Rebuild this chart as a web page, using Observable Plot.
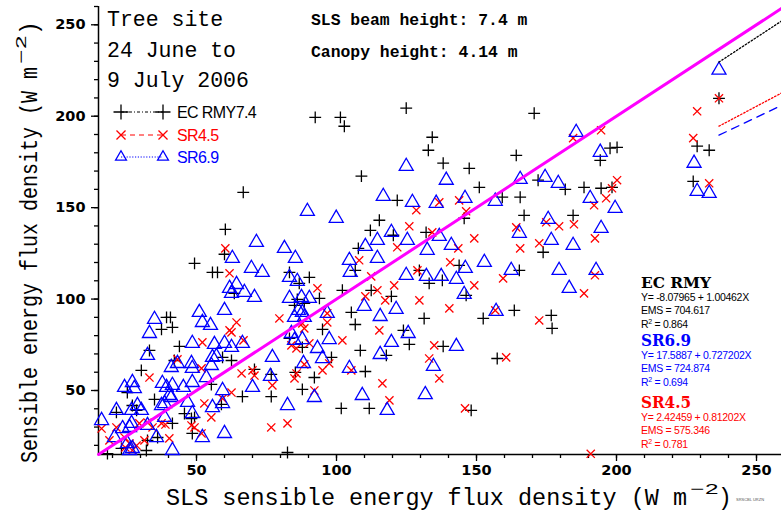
<!DOCTYPE html>
<html>
<head>
<meta charset="utf-8">
<script src="https://cdn.jsdelivr.net/npm/d3@7"></script>
<script src="https://cdn.jsdelivr.net/npm/@observablehq/plot@0.6"></script>
<style>
  html, body { margin: 0; padding: 0; background: #fff; }
  #chart { width: 781px; height: 513px; overflow: hidden; }
</style>
</head>
<body>
<div id="chart"></div>
<script>
// Sensible heat flux: eddy covariance and scintillometers against the SLS (W m-2)
const seriesNames = ["EC RMY7.4", "SR4.5", "SR6.9"];

const ecRmy = [
  [124.9,204.4],[92.4,199.4],[101.4,199.4],[102.8,194.5],[170.6,201.6],[66.7,158.4],[60.3,138.1],[60,124.5],
  [49.3,119.5],[55.7,114.6],[57.5,114.6],[83.2,114.6],[90.3,111.9],[86.7,108.6],[63.5,103.1],[102.1,104.8],
  [86,99.8],[93.9,100.4],[85,96.5],[88.5,97.6],[39.3,90],[40.7,90],[37.5,83.4],[41.4,84.5],[83.2,78.5],
  [95,83.4],[43.9,74.1],[33.2,71.9],[87.8,73.6],[59.3,68.1],[62.5,66.4],[42.1,66.4],[98.2,68.1],[70.7,61.5],
  [76.7,58.8],[85.3,59.9],[92.1,57.1],[55.3,53.3],[30.3,61],[25.3,48.9],[87.8,50.6],[66.4,46.7],[76.7,46.7],
  [35,45.1],[58.9,42.4],[45.7,37.4],[48.2,34.7],[21.4,38],[27.1,41.8],[28.6,39.1],[41.4,32],[48.5,26.5],
  [36.1,24.3],[32.5,22.7],[32.1,17.2],[23.2,18.3],[82.5,16.1],[18.2,15.5],[49.3,35.3],
  [236.6,209.8],[228.8,183.6],[233.1,181.4],[227.4,164.4],[200.2,183],[198.4,161.1],[194.5,160.6],
  [134.2,188.5],[132.8,181.4],[138.1,174.3],[147.4,171.5],[164.2,178.6],[172,165],[165.6,155.7],[159.2,155.7],
  [181.7,160],[188.4,161.1],[194.2,175.9],[197.7,182.5],[184.5,145.8],[167,145.8],[173.8,125.6],[176.7,91.1],
  [177,84],[157.4,67.5],[148.1,39.1],[132,136.5],[121.7,154],[115.3,143.1],[112.1,137.6],[120.3,134.9],
  [107.8,127.7],[106.7,115.7],[112.4,104.8],[119.6,101.5],[129.6,115.7],[133.1,108.6],[137.8,110.2],
  [143.8,118.4],[146.3,102],[131.3,89.4],[123.9,82.9],[108.5,71.9],[110.3,60.4],[111.7,40.2],[101.7,40.2],
  [108.9,167.2],[151,161.1],[145.6,144.2],[152.4,89.4],[163.5,93.8],[165.3,115.7],[138.1,74.1],[126,75.2],
  [105.3,92.7],[106.7,86.1],[117.8,69.2]
];

const sr45 = [
  [61.8,114.1],[93.2,105.9],[102.1,77.4],[64.3,87.2],[61.8,82.9],[62.5,81.8],[66.8,77.4],[52.1,76.3],
  [79.6,89.4],[96.7,92.2],[96.7,87.2],[87.8,86.7],[88.5,84],[83.9,74.7],[85.7,73],[90.3,75.8],[43.2,67],
  [33.2,57.1],[51.8,62.1],[66.1,59.3],[70,61],[70.7,58.2],[85,56.6],[85.7,59.3],[95,61],[97.4,64.8],
  [88.5,64.3],[77.1,52.8],[92.1,50],[62.5,48.9],[59.3,45.6],[52.8,42.9],[55.3,35.3],[76.7,29.8],[82.5,32],
  [16.1,29.2],[21.4,29.8],[29.6,32],[32.5,32.5],[34.3,29.8],[40.3,23.8],[51.8,26.5],[48.2,30.9],[49.3,29.8],
  [37.5,32],[38.9,31.4],[26.1,21],[27.1,17.2],[24.6,18.8],[28.6,19.9],[18.9,22.7],[24.3,24.3],[31.4,22.7],
  [108.1,121.2],[112.4,112.4],[110.3,101.5],[114.6,104.8],[121.7,128.3],[126,139.8],[128.5,148.6],
  [134.2,136.5],[136.7,152.9],[143.8,154],[146.3,148],[149.2,133.2],[143.5,127.7],[140.6,120.1],
  [128.9,115.7],[120.6,107.5],[117.4,99.3],[129.6,99.3],[140.3,94.9],[149.2,107.5],[156.7,93.8],
  [159.5,111.3],[164.2,139.2],[165.6,127.7],[172.4,130.5],[174.9,142],[179.5,139.8],[184.8,140.9],
  [192.3,133.2],[192,151.3],[196.3,155.1],[198.4,160.6],[200.2,165],[194.5,192.3],[184.5,188],
  [160.6,68.1],[172.4,88.3],[188.4,103.1],[192.3,113],[190.8,15.4],[134.9,74.7],[133.1,67.5],[136.7,56.6],
  [145.9,40.2],[105.3,61],[118.9,44.6],[116.4,53.9],[115.3,82.9],
  [236.6,209.8],[228.8,202.7],[227.4,188],[233.1,163.3],[60.3,127.7]
];

const sr69 = [
  [64.3,108],[61.8,105.9],[62.5,103.1],[67.1,103.7],[70.7,100.9],[83.2,111.9],[86,109.7],[87.5,100.9],
  [90.3,100.4],[83.2,100.4],[60,93.8],[51,92.7],[35,88.9],[33.2,81.2],[32.5,69.2],[52.1,87.2],[55,85.6],
  [96.7,92.2],[86.4,93.8],[87.8,92.7],[85,90],[88.5,90],[83.9,81.2],[85,77.4],[87.8,77.9],[97.4,77.9],
  [48.5,75.8],[56.4,75.2],[60,75.8],[62.5,73.6],[66.4,75.8],[57.1,68.6],[77.1,68.1],[93.2,73],[95,67.5],
  [43.2,64.8],[41,62.6],[48.2,64.8],[48.5,62.1],[55.3,63.7],[55.7,68.1],[53.5,57.1],[48.5,54.4],[59.3,50],
  [70,51.7],[76.4,57.7],[88.2,64.8],[92.1,46.2],[82.5,41.8],[24.3,51.7],[27.1,54.4],[27.8,51.1],[37.8,53.9],
  [39.3,51.7],[41.4,52.8],[40.3,47.3],[41,46.2],[37.5,41.8],[38.6,42.9],[45.3,51.7],[46.8,43.5],[48.5,37.4],
  [55.7,40.7],[59.3,42.9],[21.4,39.1],[16.1,33.6],[28.9,41.8],[26.8,39.1],[30.3,39.1],[23.6,29.2],[26.1,29.8],
  [26.8,32],[32.5,30.9],[35.7,24.3],[52.1,24.3],[60,26.5],[20.7,24.3],[25.3,21],[27.1,18.3],[26.1,17.2],
  [41.4,17.2],[38.6,35.3],
  [89.6,148],[99.9,144.2],[71.4,131],[62.8,122.3],[69.6,116.8],[73.5,114.6],[81.4,127.7],[85.3,122.3],
  [104.6,121.2],
  [124.9,172.6],[116.7,156.2],[127.1,152.9],[135.6,152.4],[139.2,165],[145.9,155.1],[156.7,153.5],
  [165.6,165.5],[174.5,166.6],[179.2,163.3],[185.6,191.2],[194.2,180.3],[190.6,155.1],[199.5,149.6],
  [175.6,143.6],[194.5,138.7],[176.7,132.1],[184.5,129.4],[179.5,115.7],[192.7,115.7],[183.1,105.9],
  [157,93.3],[162.4,115.7],[152.8,120.1],[146,116.8],[141,129.4],[136.7,134.3],[132.4,126.7],[125.3,132.1],
  [119.6,136.5],[114.6,132.1],[114.6,122.3],[110.3,128.8],[104.9,114.6],[109.9,96],[115.6,90.5],
  [121.3,94.4],[124.9,113],[132.1,112.4],[137.4,112.4],[142.8,110.8],[145.6,102.6],[125.6,81.2],
  [119.6,76.3],[115.6,69.7],[104.6,62.1],[109.2,47.3],[118.1,39.1],[131.7,47.8],[134.6,63.2],[142.8,74.1],
  [165.3,136],
  [236.6,225.2],[227.7,174.3],[228.8,158.9],[233.1,157.8]
];

// Least-squares fits (Y = a + bX), error mean square and R^2
const fitLabels = ["EC RMY", "SR6.9", "SR4.5"];
const fitIntercepts = [-8.07965, 17.5887, 2.42459];
const fitSlopes = [1.00462, 0.727202, 0.81202];
const fitEms = ["704.617", "724.874", "575.346"];
const fitR2 = ["0.864", "0.694", "0.781"];
const fitColors = ["#000000", "#0000ff", "#ff0000"];
const fitDash = ["1.5,2", "8,6", "1.5,2"];

const axisMin = 15, axisMax = 260;
const majorTicks = [50, 100, 150, 200, 250];
const minorTicks = d3.range(20, 261, 10);

// fit lines run from the largest observed SLS value to the end of the axis
const fitStart = d3.max([...ecRmy, ...sr45, ...sr69], d => d[0]);
const fitLines = fitLabels.map((name, i) => [fitStart, axisMax].map(x => ({name, x, y: fitIntercepts[i] + fitSlopes[i] * x})));

const tickFont = {fontSize: 14.5, fontWeight: "bold", fontFamily: "DejaVu Sans"};

const chart = Plot.plot({
  width: 781, height: 513,
  marginLeft: 98, marginRight: 0, marginTop: 6, marginBottom: 59,
  x: {domain: [axisMin, axisMax], range: [98, 784]},
  y: {domain: [axisMin, axisMax], range: [454, 6]},
  style: {background: "#fff", color: "#000", overflow: "hidden"},
  marks: [
    Plot.axisX({ticks: minorTicks, tickSize: 4, tickFormat: () => "", label: null, strokeWidth: 1.3}),
    Plot.axisX({ticks: majorTicks, tickSize: 7, tickPadding: 3, label: null, strokeWidth: 1.3, ...tickFont}),
    Plot.axisY({ticks: minorTicks, tickSize: 4, tickFormat: () => "", label: null, strokeWidth: 1.3}),
    Plot.axisY({ticks: majorTicks, tickSize: 7, tickPadding: 6, label: null, strokeWidth: 1.3, ...tickFont}),
    Plot.ruleY([axisMin], {stroke: "#000", strokeWidth: 1.5}),
    Plot.ruleX([axisMin], {stroke: "#000", strokeWidth: 1.5}),
    Plot.dot(ecRmy, {x: d => d[0], y: d => d[1], symbol: "plus", r: 3.9, stroke: "#000", strokeWidth: 1.3}),
    Plot.dot(sr45, {x: d => d[0], y: d => d[1], symbol: "times", r: 3.8, stroke: "#ff0000", strokeWidth: 1.3}),
    Plot.dot(sr69, {x: d => d[0], y: d => d[1], symbol: "triangle", r: 5.2, stroke: "#0000ff", strokeWidth: 1.3}),
    ...fitLines.map((line, i) => Plot.line(line, {x: "x", y: "y", stroke: fitColors[i], strokeWidth: 1.3, strokeDasharray: fitDash[i]})),
    Plot.line([axisMin, axisMax], {x: d => d, y: d => d, stroke: "#ff00ff", strokeWidth: 3})
  ]
});

document.getElementById("chart").appendChild(chart);
const svg = d3.select(chart);
// annotation layer: left-anchored text
const notes = svg.append("g").attr("text-anchor", "start");

// axis titles with superscript exponent
const mono = "Liberation Mono";
const xt = notes.append("g").attr("fill", "#000").attr("font-family", mono);
xt.append("text").attr("x", 166).attr("y", 505).attr("font-size", 23)
  .attr("textLength", 521).attr("lengthAdjust", "spacingAndGlyphs").text("SLS sensible energy flux density (W m");
xt.append("text").attr("x", 690).attr("y", 494).attr("font-size", 15)
  .attr("textLength", 29).attr("lengthAdjust", "spacingAndGlyphs").text("\u22122");
xt.append("text").attr("x", 718).attr("y", 505).attr("font-size", 23).text(")");

const yt = notes.append("g").attr("fill", "#000").attr("font-family", mono)
  .attr("transform", "translate(37,463) rotate(-90)");
yt.append("text").attr("x", 0).attr("y", 0).attr("font-size", 23)
  .attr("textLength", 396).attr("lengthAdjust", "spacingAndGlyphs").text("Sensible energy flux density (W m");
yt.append("text").attr("x", 399).attr("y", -11).attr("font-size", 15)
  .attr("textLength", 29).attr("lengthAdjust", "spacingAndGlyphs").text("\u22122");
yt.append("text").attr("x", 428).attr("y", 0).attr("font-size", 23).text(")");

// site and period
const titleLines = ["Tree site", "24 June to", "9 July 2006"];
notes.append("g").attr("font-family", mono).attr("font-size", 21.5).attr("fill", "#000")
  .selectAll("text").data(titleLines).join("text")
  .attr("x", 107).attr("y", (d, i) => 26 + i * 30.5).text(d => d);

const heightNotes = ["SLS beam height: 7.4 m", "Canopy height: 4.14 m"];
notes.append("g").attr("font-family", mono).attr("font-size", 16.4).attr("font-weight", "bold").attr("fill", "#000")
  .selectAll("text").data(heightNotes).join("text")
  .attr("x", 311).attr("y", (d, i) => 25 + i * 32).text(d => d);

// legend
const legendSymbols = [d3.symbolPlus, d3.symbolTimes, d3.symbolTriangle2];
const legendSizes = [75, 55, 85];
const legendColors = ["#000000", "#ff0000", "#0000ff"];
const legendDash = ["3,2,1,2", "5,4", "1.2,1.6"];
const legendY = [112, 135, 157];
const leg = notes.append("g");
seriesNames.forEach((name, i) => {
  const g = leg.append("g").attr("transform", `translate(0,${legendY[i]})`);
  g.append("line").attr("x1", 121).attr("x2", 163).attr("y1", 0).attr("y2", 0)
    .attr("stroke", legendColors[i]).attr("stroke-width", 1).attr("stroke-dasharray", legendDash[i]);
  [121, 163].forEach(x => g.append("path")
    .attr("transform", `translate(${x},0)`)
    .attr("d", d3.symbol(legendSymbols[i], legendSizes[i])())
    .attr("fill", "none").attr("stroke", legendColors[i]).attr("stroke-width", 1.3));
  g.append("text").attr("x", 177).attr("y", 6).attr("font-family", "Liberation Sans")
    .attr("font-size", 16).attr("letter-spacing", -0.6).attr("fill", legendColors[i]).text(name);
});

// regression statistics
const fmt = v => (v < 0 ? "-" : "") + Math.abs(v);
const blockTop = [288, 346, 408];
const stats = notes.append("g");
fitLabels.forEach((name, i) => {
  const y0 = blockTop[i];
  const c = fitColors[i];
  stats.append("text").attr("x", 641).attr("y", y0).attr("font-family", "DejaVu Serif").attr("font-weight", "bold")
    .attr("font-size", i === 0 ? 14 : 16).attr("fill", c)
    .attr("textLength", i === 0 ? 70 : 50).attr("lengthAdjust", "spacingAndGlyphs").text(name);
  const small = stats.append("g").attr("font-family", "Liberation Sans").attr("font-size", 10.5)
    .attr("letter-spacing", -0.3).attr("fill", c);
  small.append("text").attr("x", 641).attr("y", y0 + 12.5)
    .text(`Y= ${fmt(fitIntercepts[i])} + ${fitSlopes[i]}X`);
  small.append("text").attr("x", 641).attr("y", y0 + 26).text(`EMS = ${fitEms[i]}`);
  const r = small.append("text").attr("x", 641).attr("y", y0 + 39.5);
  r.append("tspan").text("R");
  r.append("tspan").attr("dy", -4).attr("font-size", 7).text("2");
  r.append("tspan").attr("dy", 4).text(` = ${fitR2[i]}`);
});

// plot stamp
notes.append("text").attr("x", 736).attr("y", 501).attr("font-family", "Liberation Sans")
  .attr("font-size", 4).attr("fill", "#555").text("SRSCBL URZN");
</script>
</body>
</html>
